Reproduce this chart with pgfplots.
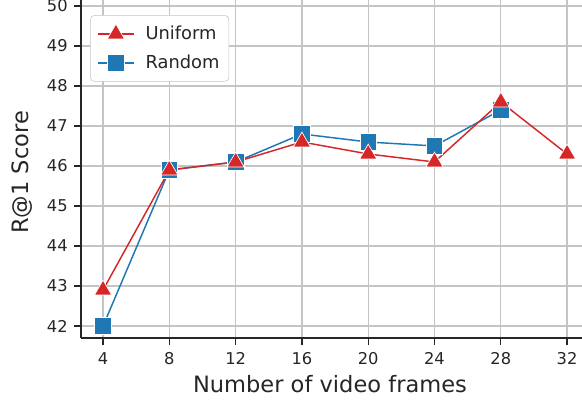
\documentclass[border=0pt]{standalone}
\usepackage{pgfplots}
\pgfplotsset{compat=1.18}
\usepackage{fontspec}
\setmainfont{DejaVu Sans}
\definecolor{tabred}{HTML}{D62728}
\definecolor{tabblue}{HTML}{1F77B4}
\definecolor{gridgray}{HTML}{C4C4C4}
\definecolor{txt}{HTML}{262626}

\begin{document}
\begin{tikzpicture}
\begin{axis}[
  scale only axis,
  width=375.75pt, height=253.5pt,
  xmin=2.67, xmax=32.9, ymin=41.7, ymax=50.15,
  xtick={4,8,...,32}, ytick={42,...,50},
  axis x line*=bottom, axis y line*=left,
  axis line style={draw=txt, line width=0.9pt, -},
  grid=major, grid style={gridgray, line width=1pt},
  tick style={draw=txt, line width=0.9pt},
  tick align=outside, major tick length=5pt,
  ticklabel style={font=\fontsize{12.2}{14}\selectfont, text=txt},
  xticklabel style={yshift=-2.5pt},
  yticklabel style={xshift=-1.5pt},
  /pgf/number format/assume math mode=true,
  xlabel={Number of video frames}, ylabel={R@1 Score},
  label style={font=\fontsize{16.9}{20}\selectfont, text=txt},
  xlabel style={at={(axis description cs:0.497,-0.136)}, anchor=center},
  ylabel style={at={(axis description cs:-0.118,0.49)}, anchor=center},
  legend style={at={(axis description cs:0.018,0.955)}, anchor=north west,
    draw=gridgray, rounded corners=3pt, fill=white, text=txt,
    font=\fontsize{13.4}{16}\selectfont, row sep=6pt, column sep=6pt,
    inner xsep=5pt, inner ysep=6pt},
  legend cell align=left,
  reverse legend,
  legend image code/.code={\draw[mark repeat=2,mark phase=2,#1] plot coordinates {(0cm,0cm)(0.48cm,0cm)(0.96cm,0cm)};},
]
\addplot[tabblue, line width=1.1pt, mark=square*, mark size=6.2pt,
  mark options={fill=tabblue, draw=white, line width=0.5pt}]
  coordinates {(4,42.0)(8,45.9)(12,46.1)(16,46.8)(20,46.6)(24,46.5)(28,47.4)};
\addlegendentry{Random}
\addplot[tabred, line width=1.1pt, mark=triangle*, mark size=7.4pt,
  mark options={fill=tabred, draw=white, line width=0.5pt}]
  coordinates {(4,42.9)(8,45.9)(12,46.1)(16,46.6)(20,46.3)(24,46.1)(28,47.6)(32,46.3)};
\addlegendentry{Uniform}
\coordinate (bl) at (rel axis cs:0,0);
\coordinate (tr) at (rel axis cs:1,1);
\end{axis}
\pgfresetboundingbox
\path ([xshift=-60.75pt,yshift=-48.75pt]bl) rectangle (tr);
\end{tikzpicture}
\end{document}
